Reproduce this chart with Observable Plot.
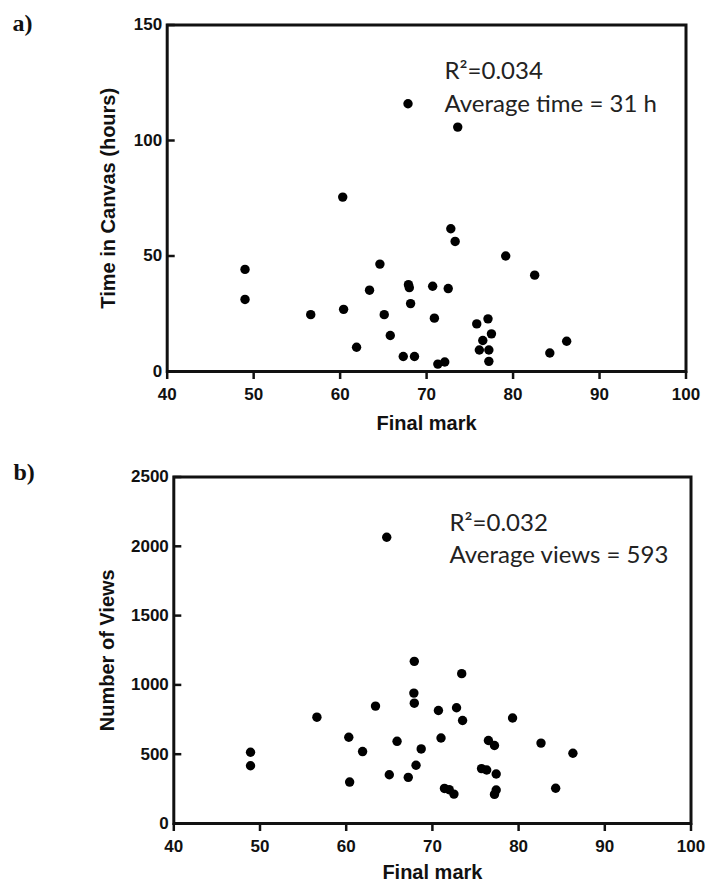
<!DOCTYPE html>
<html><head><meta charset="utf-8">
<script src="https://cdn.jsdelivr.net/npm/d3@7"></script>
<script src="https://cdn.jsdelivr.net/npm/@observablehq/plot@0.6"></script>
<style>
html,body{margin:0;padding:0;background:#fff;}
#wrap{position:relative;width:706px;height:883px;overflow:hidden;background:#fff;}
#wrap svg{display:block;}
</style></head><body><div id="wrap"></div>
<script>
// Panel a: final mark vs time in Canvas (hours)
const markA = [49.0, 49.0, 56.6, 60.4, 60.3, 61.9, 63.4, 64.6, 65.1, 65.8, 67.3, 68.6, 67.9, 68.0, 68.15, 67.85, 70.7, 70.9, 71.3, 72.1, 72.5, 72.8, 73.3, 73.6, 79.15, 82.5, 75.8, 77.1, 77.5, 76.5, 76.1, 77.2, 77.2, 84.25, 86.2];
const timeA = [44.2, 31.2, 24.6, 26.9, 75.5, 10.5, 35.2, 46.5, 24.6, 15.6, 6.5, 6.5, 37.6, 36.3, 29.4, 115.9, 36.9, 23.1, 3.2, 4.1, 35.9, 61.8, 56.3, 105.8, 50.0, 41.7, 20.6, 22.8, 16.3, 13.4, 9.3, 9.3, 4.4, 8.0, 13.1];
// Panel b: final mark vs number of views
const markB = [48.9, 48.9, 56.6, 60.3, 60.4, 61.9, 63.4, 64.7, 65.0, 65.9, 67.2, 67.9, 67.85, 67.9, 68.1, 68.7, 70.7, 71.0, 71.4, 71.95, 72.5, 72.8, 73.4, 73.5, 79.3, 76.5, 77.2, 82.6, 86.3, 75.7, 76.3, 77.4, 77.4, 77.2, 84.3];
const viewsB = [514, 417, 767, 622, 299, 519, 847, 2065, 352, 593, 333, 1170, 941, 868, 420, 538, 815, 617, 253, 244, 212, 835, 1081, 743, 761, 599, 563, 580, 507, 396, 386, 357, 242, 210, 254];

const xTicks = [40, 50, 60, 70, 80, 90, 100];
const yTicksA = [0, 50, 100, 150];
const yTicksB = [0, 500, 1000, 1500, 2000, 2500];
const xTitle = "Final mark";
const yTitleA = "Time in Canvas (hours)";
const yTitleB = "Number of Views";
const letters = ["a)", "b)"];
const notesA = ["R²=0.034", "Average time = 31 h"];
const notesB = ["R²=0.032", "Average views = 593"];

function panel(o) {
  const W = 706;
  const plotW = W - o.mL - o.mR;
  const data = o.xs.map((x, i) => ({x, y: o.ys[i]}));
  return Plot.plot({
    width: W, height: o.h,
    marginLeft: o.mL, marginRight: o.mR, marginTop: o.mT, marginBottom: o.mB,
    style: {fontFamily: "'Liberation Sans', Arial, sans-serif", fontSize: "17px", fontWeight: "bold", color: "#111", background: "#fff", overflow: "visible"},
    x: {domain: [40, 100]},
    y: {domain: o.yDomain},
    marks: [
      Plot.dot(data, {x: "x", y: "y", r: 4.7, fill: "#000", stroke: null}),
      Plot.frame({stroke: "#111", strokeWidth: 3}),
      Plot.axisX({ticks: xTicks, tickSize: 8, tickPadding: 8, strokeWidth: 2.5, label: null, tickFormat: d => String(d)}),
      Plot.axisY({ticks: o.yTicks, tickSize: 0, tickPadding: 5, label: null, tickFormat: d => String(d)}),
      Plot.tickY(o.yTicks, {y: d => d, stroke: "#111", strokeWidth: 2.5, insetRight: plotW - 8}),
      Plot.text([xTitle], {frameAnchor: "bottom", lineAnchor: "top", dy: o.xTitleDy, fontSize: 20}),
      Plot.text([o.yTitle], {frameAnchor: "left", textAnchor: "middle", lineAnchor: "middle", rotate: -90, dx: o.titleDx, fontSize: 20}),
      Plot.text([o.letter], {frameAnchor: "top-left", textAnchor: "start", lineAnchor: "top", dx: o.letterDx, dy: o.letterDy, fontSize: 24, fontFamily: "'Liberation Serif', 'Times New Roman', serif"}),
      Plot.text([o.note.join("\n")], {frameAnchor: "top-left", textAnchor: "start", lineAnchor: "top", dx: o.noteDx, dy: o.noteDy, fontSize: 24, lineHeight: o.lh, fontWeight: "normal", fontFamily: "Lato, 'Open Sans', sans-serif", fill: "#222"})
    ]
  });
}

const wrap = document.getElementById("wrap");
wrap.appendChild(panel({
  xs: markA, ys: timeA, yDomain: [0, 150], yTicks: yTicksA,
  h: 440, mL: 166.7, mR: 20.5, mT: 24.5, mB: 69,
  yTitle: yTitleA, titleDx: -58.7, xTitleDy: 44,
  letter: letters[0], letterDx: -154.7, letterDy: -11.5,
  note: notesA, noteDx: 277.3, noteDy: 30.5, lh: 1.375
}));
wrap.appendChild(panel({
  xs: markB, ys: viewsB, yDomain: [0, 2500], yTicks: yTicksB,
  h: 443, mL: 173.3, mR: 15.5, mT: 36.5, mB: 60,
  yTitle: yTitleB, titleDx: -66.3, xTitleDy: 41,
  letter: letters[1], letterDx: -160.3, letterDy: -14.5,
  note: notesB, noteDx: 275.7, noteDy: 31.5, lh: 1.333
}));
</script>
</body></html>
